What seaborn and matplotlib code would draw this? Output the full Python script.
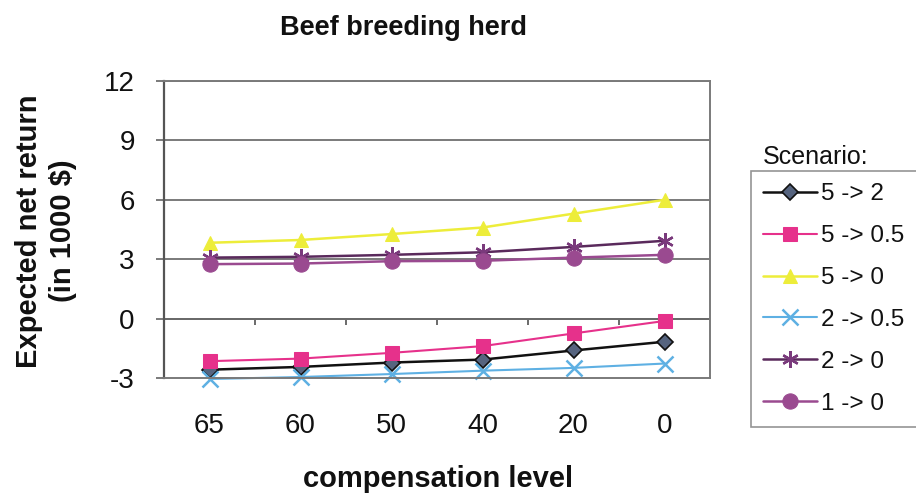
import numpy as np
import pandas as pd
import matplotlib
matplotlib.use("Agg")
import matplotlib.pyplot as plt
import seaborn as sns

# ---- data ----
categories = ["65", "60", "50", "40", "20", "0"]
s_5_2 = [-2.58, -2.44, -2.22, -2.07, -1.61, -1.17]
s_5_05 = [-2.15, -2.02, -1.73, -1.39, -0.75, -0.12]
s_5_0 = [3.83, 3.97, 4.27, 4.60, 5.30, 6.00]
s_2_05 = [-3.05, -2.95, -2.80, -2.63, -2.49, -2.27]
s_2_0 = [3.08, 3.12, 3.22, 3.35, 3.62, 3.93]
s_1_0 = [2.75, 2.78, 2.90, 2.92, 3.08, 3.22]
series_names = ["5 -> 2", "5 -> 0.5", "5 -> 0", "2 -> 0.5", "2 -> 0", "1 -> 0"]
y_ticks = [-3, 0, 3, 6, 9, 12]

series_values = [s_5_2, s_5_05, s_5_0, s_2_05, s_2_0, s_1_0]

styles = [
    dict(color="#111111", marker="D", markerfacecolor="#56647f", markeredgecolor="#111111",
         markersize=8, markeredgewidth=1.2, lw=1.8),
    dict(color="#e6318b", marker="s", markerfacecolor="#e6318b", markeredgecolor="#e6318b",
         markersize=10, lw=1.5),
    dict(color="#eded3a", marker="^", markerfacecolor="#eded3a", markeredgecolor="#eded3a",
         markersize=10, lw=1.8),
    dict(color="#5eb0e3", marker="x", markeredgecolor="#5eb0e3", markersize=11,
         markeredgewidth=1.8, lw=1.5),
    dict(color="#5a2a5c", marker=(6, 2, 0), markeredgecolor="#7a3a7c", markersize=12,
         markeredgewidth=1.7, lw=1.8),
    dict(color="#9a4a90", marker="o", markerfacecolor="#9a4a90", markeredgecolor="#9a4a90",
         markersize=11, lw=1.8),
]

sns.set_theme(style="white")
plt.rcParams["font.family"] = ["Liberation Sans", "DejaVu Sans"]

fig = plt.figure(figsize=(9.16, 4.95), dpi=100)
ax = fig.add_axes([164 / 916, 1 - 378 / 495, (710 - 164) / 916, (378 - 81) / 495])

for name, vals, st in zip(series_names, series_values, styles):
    df = pd.DataFrame({"compensation": categories, "value": vals})
    sns.lineplot(data=df, x="compensation", y="value", ax=ax, sort=False,
                 label=name, clip_on=False, **st)

ax.set_xlim(-0.5, len(categories) - 0.5)
ax.set_ylim(y_ticks[0], y_ticks[-1])
ax.set_yticks(y_ticks)
ax.set_yticklabels([str(t) for t in y_ticks])
ax.set_xticks(range(len(categories)))
ax.set_xticklabels(categories)

# grid lines
for t in y_ticks[1:]:
    ax.axhline(t, color="#7a7a7a", lw=1.4, zorder=0)
# category axis crossing at 0 with tick marks between categories
ax.axhline(0, color="#6a6a6a", lw=1.4, zorder=0.5)
bounds = np.arange(len(categories) - 1) + 0.5
ax.vlines(bounds, -0.3, 0, color="#6a6a6a", lw=1.4, zorder=0.5)

for side in ["top", "right", "bottom"]:
    ax.spines[side].set_color("#7a7a7a")
    ax.spines[side].set_linewidth(1.4)
ax.spines["left"].set_color("#555555")
ax.spines["left"].set_linewidth(1.6)

ax.tick_params(axis="x", length=0, pad=25, labelsize=20, colors="#111111")
ax.tick_params(axis="y", length=6, width=1.4, color="#7a7a7a", pad=15,
               labelsize=20, labelcolor="#111111", left=True)
ax.set_xlabel("")
ax.set_ylabel("")

fig.text(403 / 916, 1 - 28 / 495, "Beef breeding herd", ha="center", va="center",
         fontsize=19.5, fontweight="bold", color="#111111")
fig.text(46 / 916, 1 - 231 / 495, "Expected net return\n(in 1000 \\$)", ha="center",
         va="center", rotation=90, fontsize=21, fontweight="bold", linespacing=1.3,
         color="#111111")
fig.text(438 / 916, 1 - 479 / 495, "compensation level", ha="center", va="center",
         fontsize=21, fontweight="bold", color="#111111")

fig.text(763 / 916, 1 - 157 / 495, "Scenario:", ha="left", va="center",
         fontsize=18, color="#111111")
leg = ax.legend(loc="upper left", bbox_to_anchor=(751 / 916, 1 - 171 / 495),
                bbox_transform=fig.transFigure, frameon=True, fancybox=False,
                fontsize=17.5, handlelength=2.2, labelspacing=0.82,
                borderaxespad=0, borderpad=0.5, handletextpad=0.2)
leg.get_frame().set_edgecolor("#7a7a7a")
leg.get_frame().set_linewidth(1.2)
for txt in leg.get_texts():
    txt.set_color("#111111")

fig.savefig("out.png", dpi=100, facecolor="white")
